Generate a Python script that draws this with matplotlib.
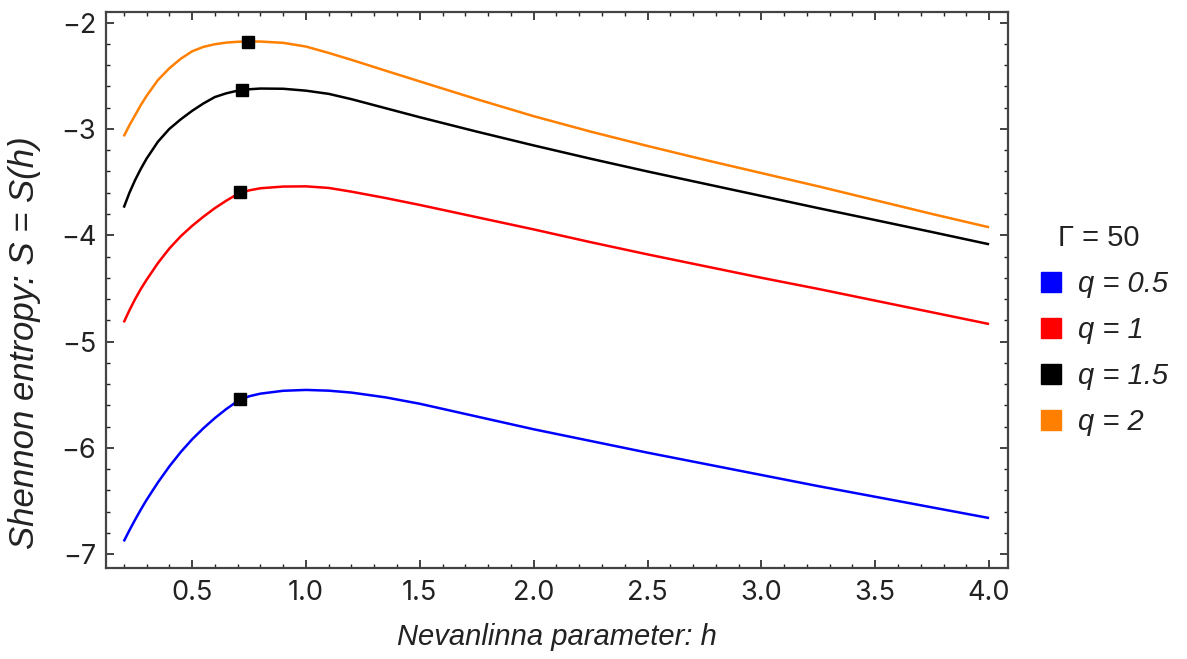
import matplotlib
matplotlib.use("Agg")
import matplotlib.pyplot as plt
from matplotlib.lines import Line2D
from matplotlib.ticker import MultipleLocator, FuncFormatter

plt.rcParams['font.family'] = ['Liberation Sans', 'DejaVu Sans']

# Data
h = [0.2, 0.225, 0.25, 0.275, 0.3, 0.35, 0.4, 0.45, 0.5, 0.55, 0.6, 0.65, 0.7, 0.75, 0.8,
     0.9, 1.0, 1.1, 1.2, 1.35, 1.5, 1.75, 2.0, 2.25, 2.5, 2.75, 3.0, 3.25, 3.5, 3.75, 4.0]
S_q05 = [-6.88, -6.775, -6.675, -6.58, -6.49, -6.325, -6.175, -6.04, -5.92, -5.815, -5.72, -5.635, -5.56, -5.515, -5.49,
         -5.463, -5.455, -5.462, -5.48, -5.525, -5.585, -5.705, -5.825, -5.935, -6.045, -6.15, -6.255, -6.36, -6.46, -6.56, -6.66]
S_q1 = [-4.82, -4.705, -4.60, -4.505, -4.42, -4.262, -4.125, -4.01, -3.912, -3.825, -3.745, -3.675, -3.612, -3.578, -3.558,
        -3.542, -3.54, -3.555, -3.59, -3.65, -3.715, -3.83, -3.945, -4.065, -4.18, -4.29, -4.40, -4.505, -4.615, -4.725, -4.835]
S_q15 = [-3.74, -3.60, -3.48, -3.375, -3.28, -3.12, -3.00, -2.91, -2.83, -2.76, -2.70, -2.665, -2.64, -2.627, -2.62,
         -2.622, -2.64, -2.67, -2.72, -2.805, -2.89, -3.025, -3.155, -3.28, -3.40, -3.515, -3.63, -3.745, -3.857, -3.97, -4.085]
S_q2 = [-3.07, -2.965, -2.87, -2.775, -2.69, -2.54, -2.43, -2.34, -2.27, -2.228, -2.203, -2.188, -2.18, -2.177, -2.178,
        -2.19, -2.225, -2.285, -2.35, -2.452, -2.553, -2.72, -2.88, -3.025, -3.16, -3.29, -3.415, -3.54, -3.67, -3.80, -3.925]

marker_h = [0.711, 0.711, 0.719, 0.746]
marker_S = [-5.54, -3.595, -2.632, -2.178]

labels = ["q = 0.5", "q = 1", "q = 1.5", "q = 2"]
colors = ["#0000ff", "#ff0000", "#000000", "#ff8000"]
series = [S_q05, S_q1, S_q15, S_q2]
legend_title = "Γ = 50"

fig = plt.figure(figsize=(11.87, 6.59), dpi=100)
ax = fig.add_axes([106/1187, 1-568/659, (1008-106)/1187, (568-12)/659])

for s, c in zip(series, colors):
    ax.plot(h, s, color=c, lw=1.8, solid_capstyle='butt', solid_joinstyle='round')
ax.plot(marker_h, marker_S, 's', color='black', ms=9, ls='none', zorder=5)

ax.set_xlim(0.122, 4.083)
ax.set_ylim(-7.13, -1.9)
ax.xaxis.set_major_locator(MultipleLocator(0.5))
ax.xaxis.set_minor_locator(MultipleLocator(0.1))
ax.yaxis.set_major_locator(MultipleLocator(1))
ax.yaxis.set_minor_locator(MultipleLocator(0.2))
ax.xaxis.set_major_formatter(FuncFormatter(lambda v, p: f"{v:.1f}"))
ax.yaxis.set_major_formatter(FuncFormatter(lambda v, p: f"\u2212{abs(v):.0f}" if v < 0 else f"{v:.0f}"))

ax.tick_params(which='both', direction='in', top=True, right=True, color='#222222')
ax.tick_params(which='major', length=5.5, width=1.2, labelsize=19.5, labelcolor='#222222')
ax.tick_params(which='minor', length=3, width=1.0)
ax.tick_params(axis='x', which='major', pad=9)
ax.tick_params(axis='y', which='major', pad=7)
for lab in ax.get_xticklabels() + ax.get_yticklabels():
    lab.set_family(['Inter', 'Liberation Sans', 'DejaVu Sans'])
for sp in ax.spines.values():
    sp.set_color('#444444')
    sp.set_linewidth(1.6)

ax.set_xlabel("Nevanlinna parameter: h", fontsize=21, fontstyle='italic', color='#222222', labelpad=12)
fig.text(25/1187, 1-343/659, "Shennon entropy: S = S(h)", fontsize=25, fontstyle='italic',
         color='#222222', rotation=90, ha='center', va='center')

handles = [Line2D([], [], marker='s', color=c, ls='none', ms=15) for c in colors]
leg = fig.legend(handles, labels, title=legend_title, loc='center left',
                 bbox_to_anchor=(1015/1187, 1-330/659), frameon=False,
                 fontsize=21, title_fontsize=21, labelspacing=0.62,
                 handletextpad=0.15, handlelength=1.5, borderpad=0)
for t in leg.get_texts():
    t.set_fontstyle('italic')
    t.set_color('#222222')
leg.get_title().set_color('#222222')

fig.savefig("out.png", dpi=100)
